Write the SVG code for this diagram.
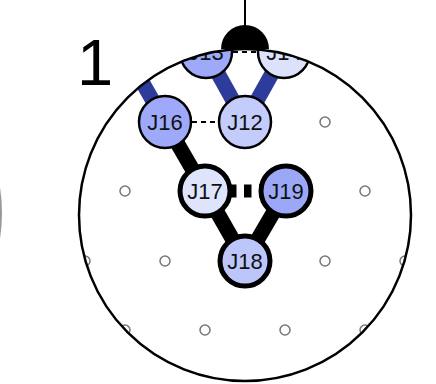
<svg xmlns="http://www.w3.org/2000/svg" width="436" height="384" viewBox="0 0 436 384">
<style>
.lbl{font-family:"Liberation Sans",Arial,sans-serif;font-size:22px;fill:#111;text-anchor:middle;dominant-baseline:central}
.el{fill:#fff;stroke:#777;stroke-width:1.5}
.n1{stroke:#000;stroke-width:2.5}
.n2{stroke:#000;stroke-width:5}
.eb{stroke:#2d3c9a;stroke-width:15;fill:none}
.ek{stroke:#000;stroke-width:15;fill:none}
.ed{stroke:#000;stroke-width:2;stroke-dasharray:5 4;fill:none}
.edk{stroke:#000;stroke-width:13;stroke-dasharray:7.5 7.5;fill:none}
</style>
<defs>
<clipPath id="head"><circle cx="245" cy="215" r="166"/></clipPath>
</defs>
<rect width="436" height="384" fill="#fff"/>
<circle cx="-166" cy="213" r="167" fill="none" stroke="#999" stroke-width="2"/>
<text x="77" y="85" style="font-family:'Liberation Sans',Arial,sans-serif;font-size:65px;fill:#000">1</text>
<line x1="245" y1="0" x2="245" y2="26" stroke="#000" stroke-width="2"/>
<circle cx="245" cy="215" r="166" fill="#fff"/>
<g clip-path="url(#head)">
<g id="electrodes">
<circle class="el" cx="325" cy="122" r="5"/>
<circle class="el" cx="125" cy="191" r="5"/>
<circle class="el" cx="365" cy="191" r="5"/>
<circle class="el" cx="85" cy="261" r="5"/>
<circle class="el" cx="165" cy="261" r="5"/>
<circle class="el" cx="325" cy="261" r="5"/>
<circle class="el" cx="405" cy="261" r="5"/>
<circle class="el" cx="125" cy="330" r="5"/>
<circle class="el" cx="205" cy="330" r="5"/>
<circle class="el" cx="285" cy="330" r="5"/>
<circle class="el" cx="365" cy="330" r="5"/>
</g>
<g id="connectors">
<line class="eb" x1="165" y1="122" x2="125" y2="52"/>
<line class="eb" x1="206" y1="52" x2="245" y2="122"/>
<line class="eb" x1="284" y1="52" x2="245" y2="122"/>
<line class="ed" x1="206" y1="52" x2="284" y2="52"/>
<line class="ed" x1="165" y1="122" x2="245" y2="122"/>
<line class="ek" x1="165" y1="122" x2="205" y2="191"/>
<line class="ek" x1="205" y1="191" x2="245" y2="261"/>
<line class="ek" x1="286" y1="191" x2="245" y2="261"/>
<line class="edk" x1="229" y1="191" x2="266" y2="191"/>
</g>
<g id="J13"><circle class="n1" cx="206" cy="52" r="26" fill="#9eaaf9"/><text class="lbl" x="206" y="52">J13</text></g>
<g id="J14"><circle class="n1" cx="284" cy="52" r="26" fill="#dde2fc"/><text class="lbl" x="284" y="52">J14</text></g>
<g id="J16"><circle class="n1" cx="165" cy="122" r="26" fill="#9eaaf9"/><text class="lbl" x="165" y="122">J16</text></g>
<g id="J12"><circle class="n1" cx="245" cy="122" r="26" fill="#c3ccfb"/><text class="lbl" x="245" y="122">J12</text></g>
<g id="J17"><circle class="n2" cx="205" cy="191" r="25" fill="#dfe4fd"/><text class="lbl" x="205" y="191">J17</text></g>
<g id="J19"><circle class="n2" cx="286" cy="191" r="25" fill="#9ba8f8"/><text class="lbl" x="286" y="191">J19</text></g>
<g id="J18"><circle class="n2" cx="245" cy="261" r="25" fill="#bcc6fa"/><text class="lbl" x="245" y="261">J18</text></g>
</g>
<circle cx="245" cy="215" r="166" fill="none" stroke="#000" stroke-width="2.5"/>
<path d="M221,49 A24,24 0 0 1 269,49 Z" fill="#000"/>
</svg>
